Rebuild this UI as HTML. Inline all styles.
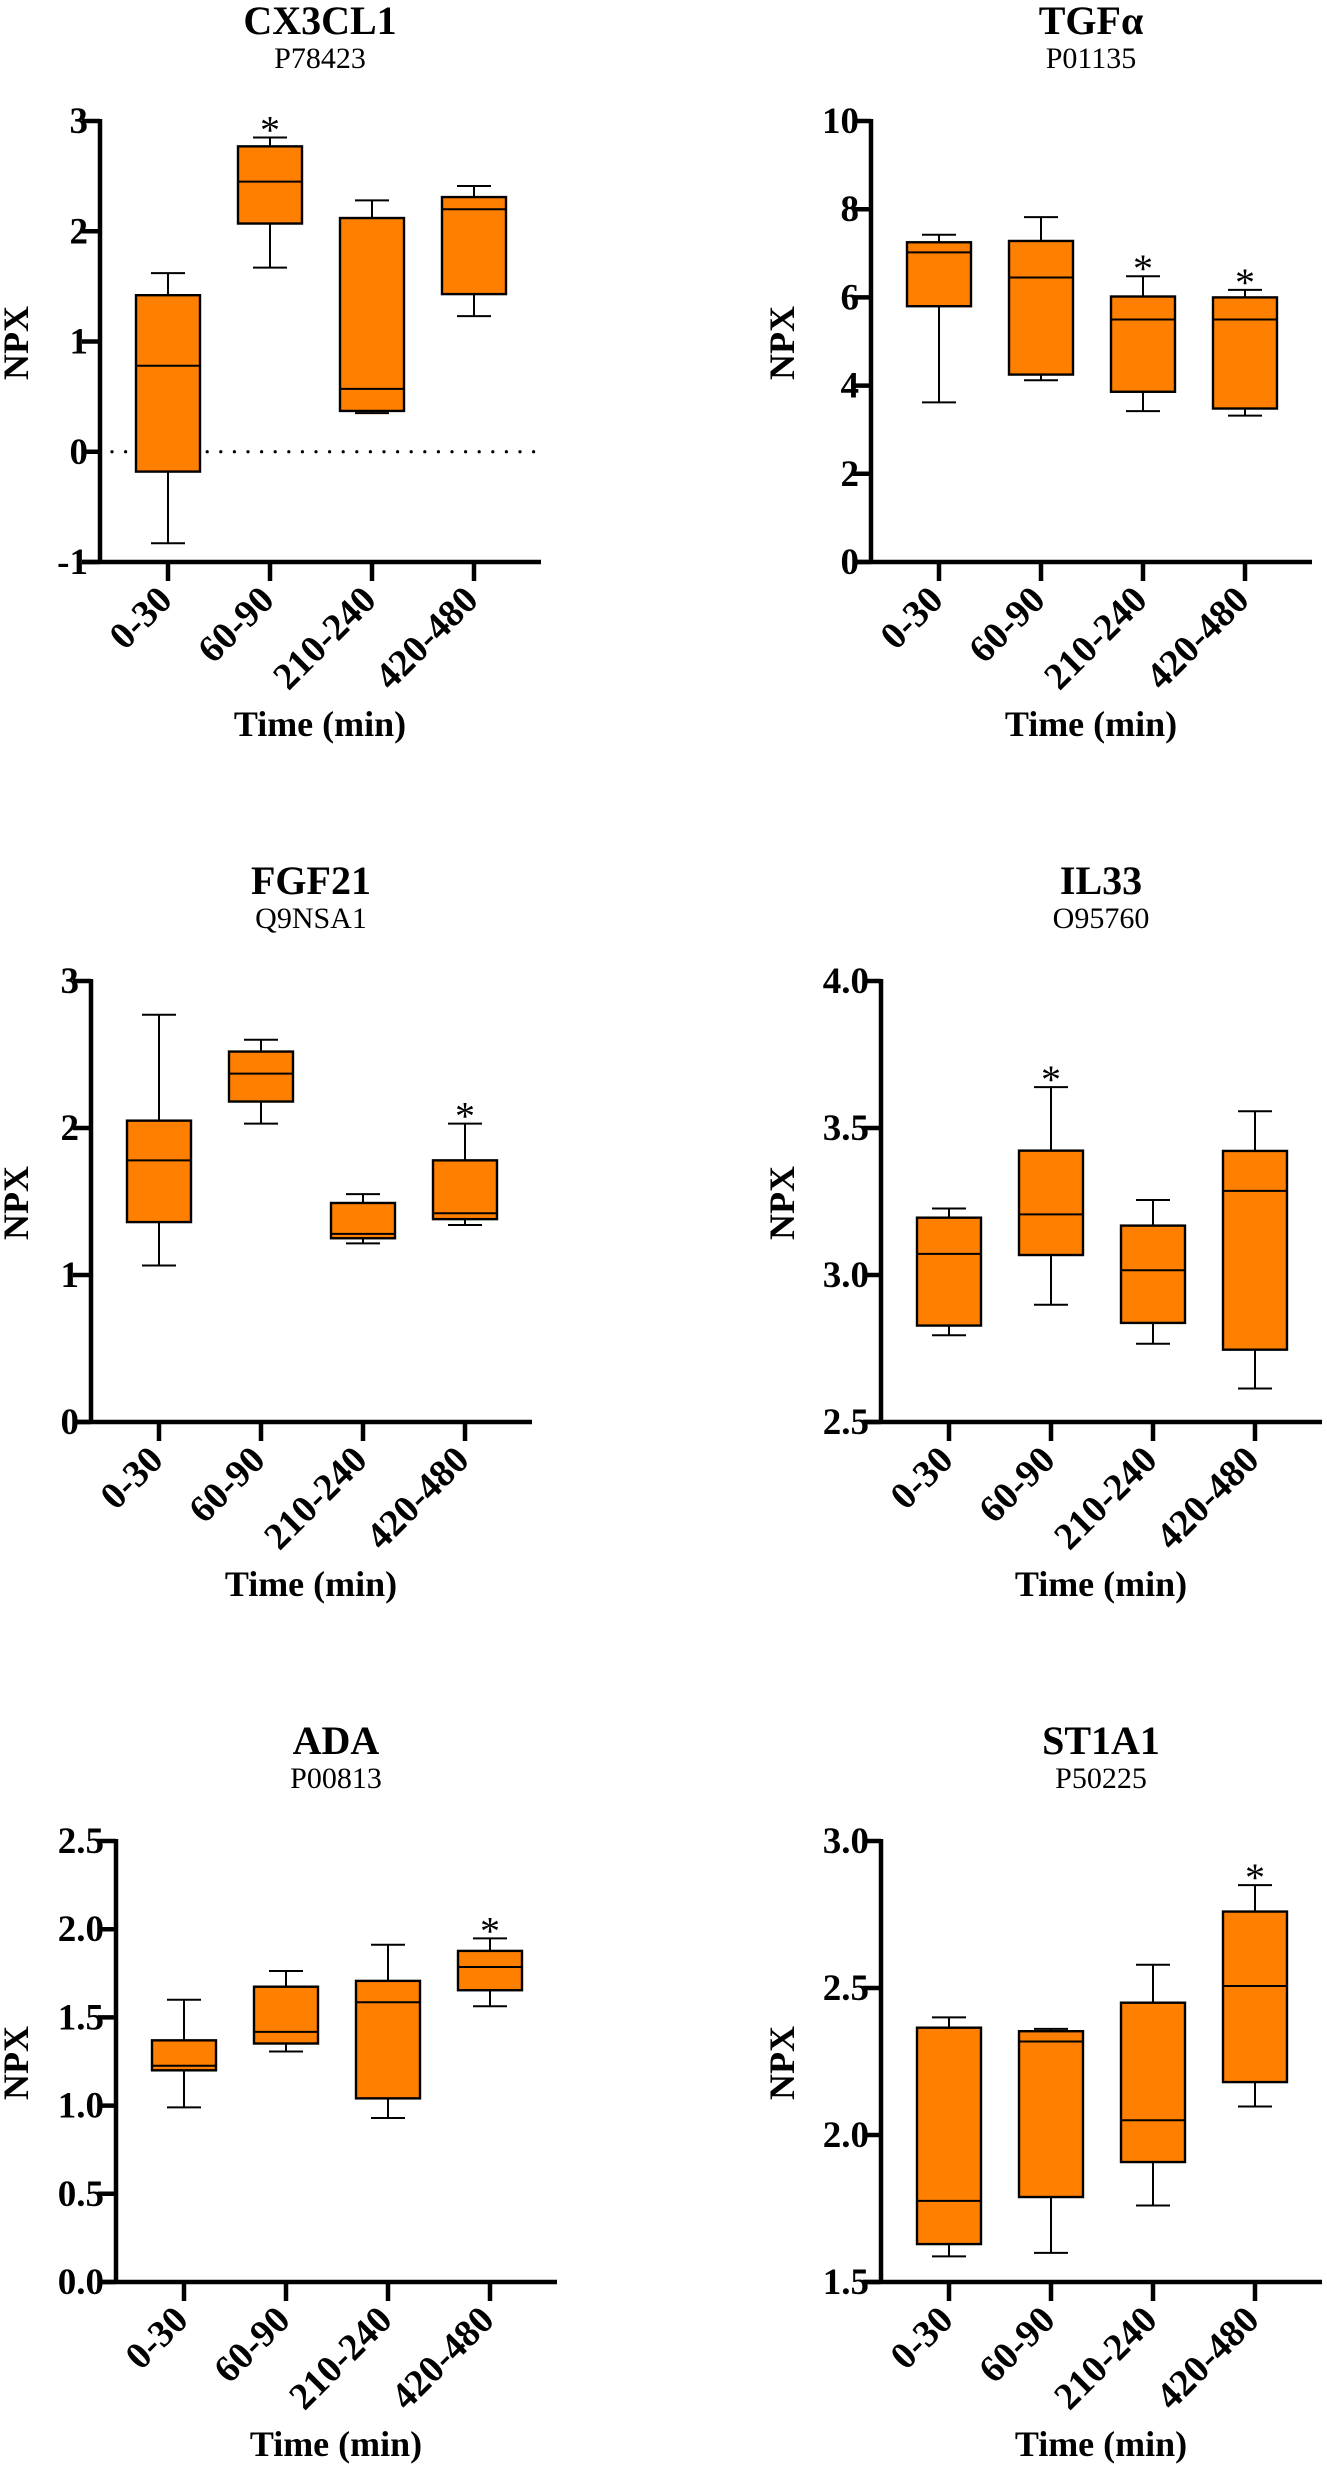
<!DOCTYPE html>
<html><head><meta charset="utf-8"><style>
html,body{margin:0;padding:0;background:#fff;}
svg{display:block;}
text{font-family:"Liberation Serif","Times New Roman",serif;fill:#000;}
</style></head><body>
<svg id="fig" width="1327" height="2472" viewBox="0 0 1327 2472" xmlns="http://www.w3.org/2000/svg"></svg>
<script>
const categories = ["0-30","60-90","210-240","420-480"];

// CX3CL1
const cx3High = [1.62, 2.85, 2.28, 2.41];
const cx3Q3   = [1.42, 2.77, 2.12, 2.31];
const cx3Med  = [0.78, 2.45, 0.57, 2.20];
const cx3Q1   = [-0.18, 2.07, 0.37, 1.43];
const cx3Low  = [-0.83, 1.67, 0.35, 1.23];
const cx3Star = [false, true, false, false];
const cx3Ticks = [-1, 0, 1, 2, 3];
const cx3TickLabels = ["-1","0","1","2","3"];

// TGFa
const tgfHigh = [7.42, 7.82, 6.48, 6.17];
const tgfQ3   = [7.25, 7.28, 6.02, 6.00];
const tgfMed  = [7.02, 6.45, 5.50, 5.50];
const tgfQ1   = [5.80, 4.25, 3.86, 3.48];
const tgfLow  = [3.62, 4.12, 3.42, 3.32];
const tgfStar = [false, false, true, true];
const tgfTicks = [0, 2, 4, 6, 8, 10];
const tgfTickLabels = ["0","2","4","6","8","10"];

// FGF21
const fgfHigh = [2.77, 2.60, 1.55, 2.03];
const fgfQ3   = [2.05, 2.52, 1.49, 1.78];
const fgfMed  = [1.78, 2.37, 1.28, 1.42];
const fgfQ1   = [1.36, 2.18, 1.25, 1.38];
const fgfLow  = [1.065, 2.03, 1.215, 1.34];
const fgfStar = [false, false, false, true];
const fgfTicks = [0, 1, 2, 3];
const fgfTickLabels = ["0","1","2","3"];

// IL33
const ilHigh = [3.226, 3.639, 3.255, 3.557];
const ilQ3   = [3.195, 3.423, 3.168, 3.422];
const ilMed  = [3.072, 3.206, 3.016, 3.286];
const ilQ1   = [2.828, 3.068, 2.837, 2.746];
const ilLow  = [2.795, 2.899, 2.766, 2.614];
const ilStar = [false, true, false, false];
const ilTicks = [2.5, 3.0, 3.5, 4.0];
const ilTickLabels = ["2.5","3.0","3.5","4.0"];

// ADA
const adaHigh = [1.60, 1.763, 1.912, 1.948];
const adaQ3   = [1.37, 1.674, 1.707, 1.877];
const adaMed  = [1.226, 1.418, 1.586, 1.786];
const adaQ1   = [1.20, 1.352, 1.041, 1.654];
const adaLow  = [0.99, 1.307, 0.93, 1.563];
const adaStar = [false, false, false, true];
const adaTicks = [0, 0.5, 1.0, 1.5, 2.0, 2.5];
const adaTickLabels = ["0.0","0.5","1.0","1.5","2.0","2.5"];

// ST1A1
const stHigh = [2.40, 2.361, 2.579, 2.85];
const stQ3   = [2.365, 2.353, 2.45, 2.76];
const stMed  = [1.776, 2.318, 2.05, 2.507];
const stQ1   = [1.629, 1.789, 1.908, 2.18];
const stLow  = [1.587, 1.599, 1.76, 2.097];
const stStar = [false, false, false, true];
const stTicks = [1.5, 2.0, 2.5, 3.0];
const stTickLabels = ["1.5","2.0","2.5","3.0"];

const NS = "http://www.w3.org/2000/svg";
const svg = document.getElementById("fig");
function mk(tag, attrs, parent){
  const e = document.createElementNS(NS, tag);
  for (const k in attrs) e.setAttribute(k, attrs[k]);
  (parent||svg).appendChild(e);
  return e;
}

const panels = [
  {name:"cx3cl1", title:"CX3CL1", sub:"P78423", col:0, row:0, ax:100, hi:cx3High, q3:cx3Q3, med:cx3Med, q1:cx3Q1, lo:cx3Low, star:cx3Star, ticks:cx3Ticks, labels:cx3TickLabels, zero:true},
  {name:"tgfa", title:"TGFα", sub:"P01135", col:1, row:0, ax:871, hi:tgfHigh, q3:tgfQ3, med:tgfMed, q1:tgfQ1, lo:tgfLow, star:tgfStar, ticks:tgfTicks, labels:tgfTickLabels},
  {name:"fgf21", title:"FGF21", sub:"Q9NSA1", col:0, row:1, ax:91, hi:fgfHigh, q3:fgfQ3, med:fgfMed, q1:fgfQ1, lo:fgfLow, star:fgfStar, ticks:fgfTicks, labels:fgfTickLabels},
  {name:"il33", title:"IL33", sub:"O95760", col:1, row:1, ax:881, hi:ilHigh, q3:ilQ3, med:ilMed, q1:ilQ1, lo:ilLow, star:ilStar, ticks:ilTicks, labels:ilTickLabels},
  {name:"ada", title:"ADA", sub:"P00813", col:0, row:2, ax:116, hi:adaHigh, q3:adaQ3, med:adaMed, q1:adaQ1, lo:adaLow, star:adaStar, ticks:adaTicks, labels:adaTickLabels},
  {name:"st1a1", title:"ST1A1", sub:"P50225", col:1, row:2, ax:881, hi:stHigh, q3:stQ3, med:stMed, q1:stQ1, lo:stLow, star:stStar, ticks:stTicks, labels:stTickLabels}
];

panels.forEach(p => {
  const top = p.row * 860;
  const g = mk("g", {});
  
  
  const yTop = top + 121, yBot = top + 562;
  const vmin = p.ticks[0], vmax = p.ticks[p.ticks.length-1];
  const yScale = v => yBot - (v - vmin) / (vmax - vmin) * (yBot - yTop);
  const xScale = i => p.ax + 68 + i * 102;
  const center = p.ax + 220;

  const t = mk("text", {x:center, y:top+34, "text-anchor":"middle", "font-size":40, "font-weight":"bold"}, g);
  t.textContent = p.title;
  
  
  const s = mk("text", {x:center, y:top+68, "text-anchor":"middle", "font-size":30}, g);
  s.textContent = p.sub;
  
  

  const npxX = p.col === 0 ? 28 : 794;
  const ny = top + 343;
  const n = mk("text", {x:npxX, y:ny, "text-anchor":"middle", "font-size":36, "font-weight":"bold", transform:`rotate(-90 ${npxX} ${ny})`}, g);
  n.textContent = "NPX";
  
  

  if (p.zero) {
    const z = mk("line", {x1:p.ax+12, x2:p.ax+440, y1:yScale(0), y2:yScale(0), stroke:"#000", "stroke-width":3.2, "stroke-dasharray":"0 13.6", "stroke-linecap":"round"}, g);
    
    
  }

  p.q3.forEach((_, i) => {
    const cx = xScale(i);
    const bg = mk("g", {}, g);
    
    
    mk("line", {x1:cx, x2:cx, y1:yScale(p.hi[i]), y2:yScale(p.q3[i]), stroke:"#000", "stroke-width":2}, bg);
    mk("line", {x1:cx, x2:cx, y1:yScale(p.q1[i]), y2:yScale(p.lo[i]), stroke:"#000", "stroke-width":2}, bg);
    mk("line", {x1:cx-17, x2:cx+17, y1:yScale(p.hi[i]), y2:yScale(p.hi[i]), stroke:"#000", "stroke-width":2}, bg);
    mk("line", {x1:cx-17, x2:cx+17, y1:yScale(p.lo[i]), y2:yScale(p.lo[i]), stroke:"#000", "stroke-width":2}, bg);
    mk("rect", {x:cx-32, y:yScale(p.q3[i]), width:64, height:yScale(p.q1[i])-yScale(p.q3[i]), fill:"#FF8000", stroke:"#000", "stroke-width":2.4}, bg);
    mk("line", {x1:cx-32, x2:cx+32, y1:yScale(p.med[i]), y2:yScale(p.med[i]), stroke:"#000", "stroke-width":2}, bg);
    if (p.star[i]) {
      const st = mk("text", {x:cx, y:yScale(p.hi[i])+6, "text-anchor":"middle", "font-size":40}, g);
      st.textContent = "*";
      
      
    }
  });

  const ya = mk("line", {x1:p.ax, x2:p.ax, y1:yTop-2, y2:yBot+2, stroke:"#000", "stroke-width":4.5}, g);
  
  
  const xa = mk("line", {x1:p.ax-18, x2:p.ax+441, y1:yBot, y2:yBot, stroke:"#000", "stroke-width":4.5}, g);
  
  

  p.ticks.forEach((v, k) => {
    const y = yScale(v);
    mk("line", {x1:p.ax-18, x2:p.ax, y1:y, y2:y, stroke:"#000", "stroke-width":4.5}, g);
    const tl = mk("text", {x:p.ax-12, y:y+12, "text-anchor":"end", "font-size":37, "font-weight":"bold"}, g);
    tl.textContent = p.labels[k];
    
    
  });

  categories.forEach((c, i) => {
    const cx = xScale(i);
    mk("line", {x1:cx, x2:cx, y1:yBot, y2:yBot+19, stroke:"#000", "stroke-width":4.5}, g);
    const ax = cx + 6, ay = yBot + 40;
    const xl = mk("text", {x:ax, y:ay, "text-anchor":"end", "font-size":38, "font-weight":"bold", transform:`rotate(-45 ${ax} ${ay})`}, g);
    xl.textContent = c;
    
    
  });

  const xt = mk("text", {x:center, y:top+736, "text-anchor":"middle", "font-size":36, "font-weight":"bold"}, g);
  xt.textContent = "Time (min)";
  
  
});
</script>
</body></html>
